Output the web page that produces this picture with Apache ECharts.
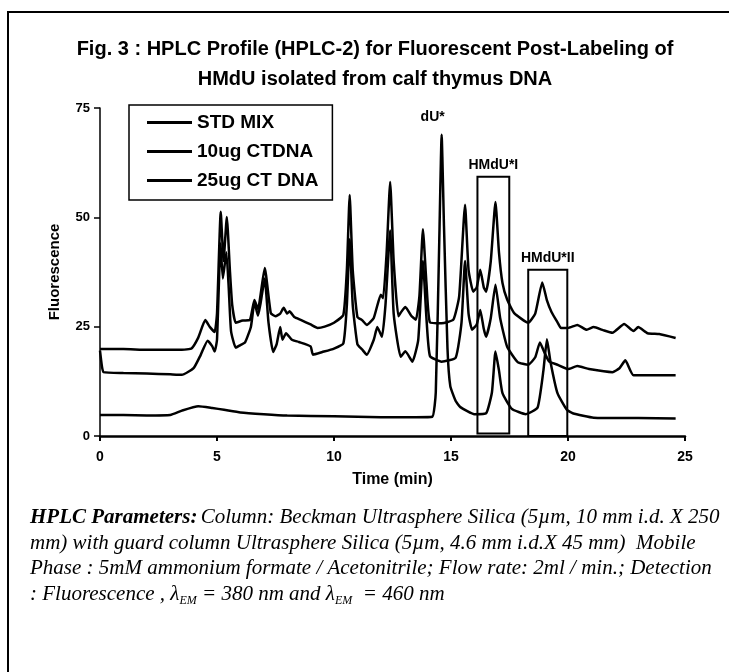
<!DOCTYPE html>
<html>
<head>
<meta charset="utf-8">
<script src="https://cdn.jsdelivr.net/npm/echarts@6/dist/echarts.min.js"></script>
<style>
  html, body { margin: 0; padding: 0; background: #fff; }
  #chart { width: 729px; height: 672px; }
</style>
</head>
<body>
<div id="chart"></div>
<script>
// axis ticks
const timeTicks = [0, 5, 10, 15, 20, 25]
const fluorTicks = [0, 25, 50, 75]

const seriesNames = ['STD MIX', '10ug CTDNA', '25ug CT DNA']

// [time (min), fluorescence]
const stdMix = [
  [0, 4.8], [1, 4.8], [2, 4.7], [3.0, 4.8], [3.5, 5.8], [4.2, 6.8], [4.8, 6.4], [5.3, 6.0],
  [6, 5.4], [7, 5.0], [8, 4.7], [10, 4.5], [12, 4.3], [13.5, 4.3], [14.2, 4.4], [14.35, 10],
  [14.5, 45], [14.6, 68.9], [14.7, 48], [14.85, 20], [14.97, 11.4], [15.2, 8], [15.4, 6.6],
  [16, 5.0], [16.5, 5.2], [16.75, 10], [16.9, 19.3], [17.05, 15], [17.2, 9.8], [17.6, 6.2],
  [18.2, 5.0], [18.7, 6.5], [18.95, 15], [19.1, 22.1], [19.25, 17], [19.55, 9.8], [19.95, 6.0],
  [20.2, 5.2], [21.1, 4.2], [23, 4.1], [24.6, 4.0]
]

const ctdna10 = [
  [0, 19.5], [0.08, 16], [0.15, 14.6], [1, 14.4], [2, 14.3], [3, 14.1], [3.5, 14.0], [4.0, 15.5],
  [4.3, 18.5], [4.6, 21.8], [4.8, 20.5], [4.9, 19.3], [5.0, 22], [5.15, 44], [5.25, 36], [5.4, 42],
  [5.5, 34], [5.6, 24], [5.8, 20.2], [6.0, 20.8], [6.2, 21.4], [6.45, 25], [6.6, 30.6], [6.75, 27.5],
  [6.85, 30], [7.04, 36], [7.2, 26], [7.4, 19.2], [7.55, 21], [7.7, 24.9], [7.8, 22], [7.95, 23.5],
  [8.2, 22], [8.5, 21.5], [9.0, 20.5], [9.1, 18.6], [9.5, 19.2], [10.0, 20], [10.4, 21.2],
  [10.55, 30], [10.67, 45], [10.8, 30], [11.0, 21], [11.2, 19.8], [11.4, 18.6], [11.7, 22],
  [11.85, 24.9], [12.05, 22.7], [12.2, 30], [12.4, 47], [12.55, 28], [12.85, 18.1], [13.05, 19.4],
  [13.35, 17.0], [13.6, 22], [13.8, 40], [13.95, 27], [14.1, 18.3], [14.6, 17.0], [15.2, 17.9],
  [15.45, 26], [15.6, 40], [15.75, 28], [15.9, 24.3], [16.1, 25.5], [16.25, 28.8], [16.4, 24.5],
  [16.5, 22.7], [16.7, 27], [16.9, 34.6], [17.1, 27], [17.4, 20.4], [17.85, 16.9], [18.3, 16.3],
  [18.6, 18], [18.8, 21.4], [19.0, 19], [19.2, 17], [19.55, 16.3], [20.0, 15.3], [20.4, 16],
  [20.9, 15.3], [21.9, 14.6], [22.2, 15.5], [22.45, 17.3], [22.8, 13.9], [24.6, 13.9]
]

const ctdna25 = [
  [0, 19.9], [1, 19.9], [2, 19.7], [3, 19.7], [3.9, 20], [4.2, 22.5], [4.5, 26.5], [4.7, 24.9],
  [4.9, 23.8], [5.0, 28], [5.16, 51.3], [5.28, 40], [5.42, 50.1], [5.55, 38], [5.65, 30],
  [5.8, 25.9], [6.1, 26.4], [6.4, 26.5], [6.6, 31.1], [6.75, 29], [7.04, 38.4], [7.3, 28.1],
  [7.5, 27.4], [7.7, 28], [7.85, 29.3], [8.0, 28], [8.1, 28.5], [8.3, 27.2], [8.6, 26.5],
  [9.0, 25.5], [9.3, 24.7], [9.6, 25], [10.0, 25.9], [10.4, 27.7], [10.55, 38], [10.67, 55.1],
  [10.8, 38], [11.0, 27.2], [11.2, 26.5], [11.4, 25.4], [11.7, 27], [12.0, 32.3], [12.1, 31.5],
  [12.25, 42], [12.4, 58.1], [12.55, 40], [12.75, 27.4], [12.85, 28.2], [13.05, 29.5], [13.3, 27.5],
  [13.5, 26.6], [13.65, 32], [13.8, 47.3], [13.95, 35], [14.1, 26.0], [14.6, 25.8], [15.1, 26.6],
  [15.35, 32], [15.6, 52.9], [15.75, 38], [15.95, 33], [16.1, 34], [16.25, 38], [16.4, 34],
  [16.5, 33], [16.7, 40], [16.9, 53.5], [17.05, 42], [17.2, 35], [17.4, 31.2], [17.7, 28.1],
  [18.3, 25.9], [18.6, 28], [18.9, 35.1], [19.1, 31], [19.3, 28.3], [19.55, 26.0], [19.7, 24.7],
  [20.0, 24.7], [20.4, 25.4], [20.8, 24.3], [21.1, 24.9], [21.5, 24.2], [21.9, 23.6], [22.4, 25.6],
  [22.8, 24.0], [23.0, 24.9], [23.4, 23.5], [23.9, 23.3], [24.6, 22.4]
]

// annotations
const peakLabel = { name: 'dU*', coord: [14.6, 68.9] }
const boxes = [
  { name: 'HMdU*I', from: [16.13, 0.6], to: [17.49, 59.3] },
  { name: 'HMdU*II', from: [18.3, 0], to: [19.97, 38] }
]

const paragraph = [
  '{b|HPLC Parameters:} {i|Column: Beckman Ultrasphere Silica (5\u00b5m, 10 mm i.d. X 250}',
  '{i|mm) with guard column Ultrasphere Silica (5\u00b5m, 4.6 mm i.d.X 45 mm)  Mobile}',
  '{i|Phase : 5mM ammonium formate / Acetonitrile; Flow rate: 2ml / min.; Detection}',
  '{i|: Fluorescence , \u03bb}{s|EM}{i| = 380 nm and \u03bb}{s|EM}{i|  = 460 nm}'
]

const sans = 'Liberation Sans'
const serif = 'Liberation Serif'

const chart = echarts.init(document.getElementById('chart'), null, { renderer: 'canvas' })

const lineSeries = (name, data) => ({
  name,
  type: 'line',
  data,
  showSymbol: false,
  symbol: 'none',
  smooth: 0.15,
  lineStyle: { color: '#000', width: 2.5 },
  itemStyle: { color: '#000' },
  silent: true
})

const std = lineSeries(seriesNames[0], stdMix)
std.markPoint = {
  symbol: 'rect',
  symbolSize: 1,
  itemStyle: { color: 'rgba(0,0,0,0)' },
  label: {
    show: true,
    formatter: peakLabel.name,
    position: 'top',
    distance: 10,
    offset: [-9, 0],
    color: '#000',
    fontFamily: sans,
    fontWeight: 'bold',
    fontSize: 14
  },
  data: [{ coord: peakLabel.coord }]
}
std.markArea = {
  silent: true,
  itemStyle: { color: 'rgba(0,0,0,0)', borderColor: '#000', borderWidth: 2 },
  label: {
    show: true,
    position: 'top',
    distance: 4,
    color: '#000',
    fontFamily: sans,
    fontWeight: 'bold',
    fontSize: 14
  },
  data: boxes.map(b => [{ name: b.name, coord: b.from }, { coord: b.to }])
}

chart.setOption({
  backgroundColor: '#fff',
  animation: false,
  color: ['#000', '#000', '#000'],
  title: {
    text: 'Fig. 3 : HPLC Profile (HPLC-2) for Fluorescent Post-Labeling of\nHMdU isolated from calf thymus DNA',
    left: 370,
    top: 29,
    textAlign: 'center',
    textStyle: {
      color: '#000',
      fontFamily: sans,
      fontWeight: 'bold',
      fontSize: 20,
      lineHeight: 30
    }
  },
  legend: {
    data: seriesNames,
    orient: 'vertical',
    left: 129,
    top: 105,
    padding: [8, 14, 10, 18],
    itemGap: 10,
    itemWidth: 45,
    itemHeight: 14,
    icon: 'path://M0,0H48V3H0Z',
    borderColor: '#000',
    borderWidth: 1.5,
    selectedMode: false,
    textStyle: { color: '#000', fontFamily: sans, fontWeight: 'bold', fontSize: 19 }
  },
  grid: { left: 100, right: 44, top: 108, bottom: 236 },
  xAxis: {
    type: 'value',
    min: timeTicks[0],
    max: timeTicks[timeTicks.length - 1],
    interval: 5,
    name: 'Time (min)',
    nameLocation: 'middle',
    nameGap: 36,
    nameTextStyle: { color: '#000', fontFamily: sans, fontWeight: 'bold', fontSize: 16 },
    axisLine: { lineStyle: { color: '#000', width: 2.5 } },
    axisTick: { show: true, length: 5, lineStyle: { color: '#000', width: 2 } },
    axisLabel: { color: '#000', fontFamily: sans, fontWeight: 'bold', fontSize: 14, margin: 14 },
    splitLine: { show: false }
  },
  yAxis: {
    type: 'value',
    min: fluorTicks[0],
    max: fluorTicks[fluorTicks.length - 1],
    interval: 25,
    name: 'Fluorescence',
    nameLocation: 'middle',
    nameGap: 38,
    nameTextStyle: { color: '#000', fontFamily: sans, fontWeight: 'bold', fontSize: 15 },
    axisLine: { show: true, lineStyle: { color: '#000', width: 1.5 } },
    axisTick: { show: true, length: 6, lineStyle: { color: '#000', width: 1.5 } },
    axisLabel: { color: '#000', fontFamily: sans, fontWeight: 'bold', fontSize: 13, margin: 10 },
    splitLine: { show: false }
  },
  series: [
    std,
    lineSeries(seriesNames[1], ctdna10),
    lineSeries(seriesNames[2], ctdna25)
  ],
  graphic: [
    {
      type: 'polyline',
      shape: { points: [[8, 672], [8, 12], [729, 12]] },
      style: { stroke: '#000', lineWidth: 2, fill: null },
      silent: true
    },
    {
      type: 'text',
      left: 30,
      top: 505,
      silent: true,
      style: {
        text: paragraph.join('\n'),
        fill: '#000',
        lineHeight: 25.5,
        rich: {
          b: { fontFamily: serif, fontStyle: 'italic', fontWeight: 'bold', fontSize: 21, lineHeight: 25.5 },
          i: { fontFamily: serif, fontStyle: 'italic', fontSize: 21, lineHeight: 25.5 },
          s: { fontFamily: serif, fontStyle: 'italic', fontSize: 12, lineHeight: 25.5, verticalAlign: 'bottom', padding: [8, 0, 0, 0] }
        }
      }
    }
  ]
})
</script>
</body>
</html>
